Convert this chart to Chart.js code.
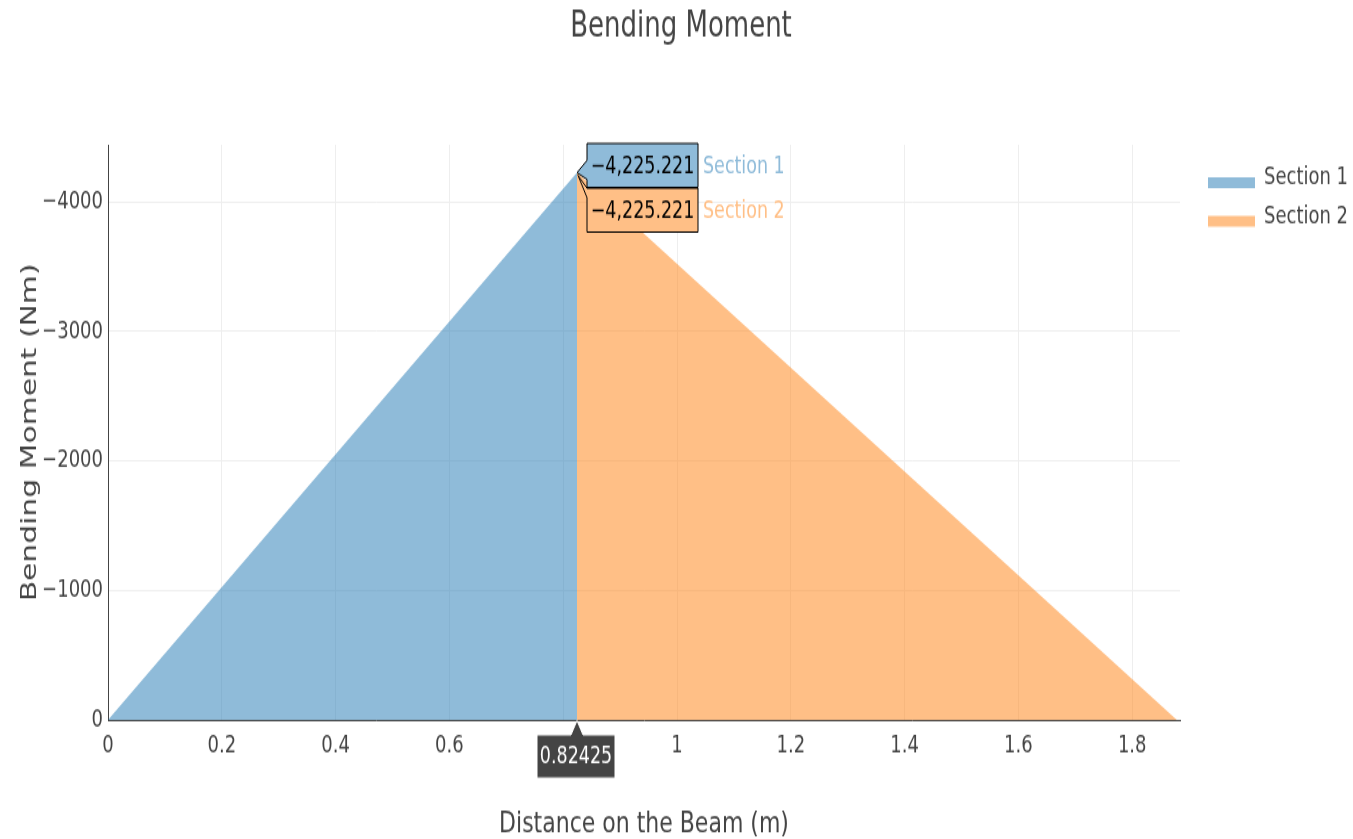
<!DOCTYPE html>
<html><head><meta charset="utf-8">
<script src="https://cdn.jsdelivr.net/npm/chart.js@4.4.1/dist/chart.umd.min.js"></script>
<style>
html,body{margin:0;padding:0;background:#fff;overflow:hidden;width:1353px;height:839px}
#wrap{width:1353px;height:620px;transform:scale(1,1.353226);transform-origin:0 0}
canvas{display:block}
</style>
</head><body><div id="wrap"><canvas id="c" width="1353" height="620" style="width:1353px;height:620px"></canvas></div>
<script>
// ---- data ----
const seriesNames = ['Section 1', 'Section 2'];
const section1X = [0, 0.82425];
const section1Y = [0, -4225.221];
const section2X = [0.82425, 1.8785];
const section2Y = [-4225.221, 0];
const xTickValues = [0, 0.2, 0.4, 0.6, 0.8, 1, 1.2, 1.4, 1.6, 1.8];
const yTickValues = [0, -1000, -2000, -3000, -4000];
const xRange = [0, 1.884];
const yRange = [-4440, 0];
const hoverX = 0.82425;
const hoverValues = [-4225.221, -4225.221];
const titleText = 'Bending Moment';
const xTitle = 'Distance on the Beam (m)';
const yTitle = 'Bending Moment (Nm)';

// ---- styles ----
const FONT = '"DejaVu Sans",Verdana,sans-serif';
const TXT = '#444';
const fills = ['rgba(31,119,180,0.5)', 'rgba(255,127,14,0.5)'];
const solid = ['rgb(143,187,217)', 'rgb(255,191,134)'];

function pts(xs, ys) { return xs.map((x, i) => ({ x: x, y: ys[i] })); }
function minusFmt(v) {
  const s = (Math.round(v * 1000) / 1000).toString();
  return s.replace('-', '\u2212');
}

const overlay = {
  id: 'overlay',
  afterDraw(chart) {
    const ctx = chart.ctx, a = chart.chartArea;
    const xs = chart.scales.x, ys = chart.scales.y;
    ctx.save();
    ctx.fillStyle = TXT;
    ctx.textAlign = 'center';
    ctx.textBaseline = 'middle';
    // title
    ctx.font = '26px ' + FONT;
    ctx.fillText(titleText, 681, 20.5);
    // x title
    ctx.font = '22px ' + FONT;
    ctx.fillText(xTitle, (a.left + a.right) / 2, 609);
    // y title
    ctx.save();
    ctx.translate(30, (a.top + a.bottom) / 2);
    ctx.rotate(-Math.PI / 2);
    ctx.fillText(yTitle, 0, 0);
    ctx.restore();
    // legend
    ctx.textAlign = 'left';
    ctx.font = '18px ' + FONT;
    const legText = [131, 160.5];
    const legSw = [131, 159.5];
    seriesNames.forEach((n, i) => {
      ctx.fillStyle = solid[i];
      ctx.fillRect(1208, legSw[i], 47, 8);
      ctx.fillStyle = TXT;
      ctx.fillText(n, 1264, legText[i]);
    });
    // hover labels
    const px = xs.getPixelForValue(hoverX);
    const py = ys.getPixelForValue(hoverValues[0]);
    const L = px + 10, R = px + 121;
    const boxes = [[106, 138.5], [139, 171.5]];
    ctx.lineWidth = 1;
    ctx.strokeStyle = '#000';
    let b = boxes[1];
    ctx.beginPath();
    ctx.moveTo(px + 1, py + 2);
    ctx.lineTo(L, b[0] + 7);
    ctx.lineTo(L, b[1]);
    ctx.lineTo(R, b[1]);
    ctx.lineTo(R, b[0]);
    ctx.lineTo(L, b[0]);
    ctx.closePath();
    ctx.fillStyle = solid[1];
    ctx.fill();
    ctx.stroke();
    b = boxes[0];
    ctx.beginPath();
    ctx.moveTo(px, py);
    ctx.lineTo(L, py - 9);
    ctx.lineTo(L, b[0]);
    ctx.lineTo(R, b[0]);
    ctx.lineTo(R, b[1]);
    ctx.lineTo(L, b[1]);
    ctx.lineTo(L, py + 5);
    ctx.closePath();
    ctx.fillStyle = solid[0];
    ctx.fill();
    ctx.stroke();
    ctx.font = '17.5px ' + FONT;
    boxes.forEach((bb, i) => {
      const cy = (bb[0] + bb[1]) / 2 + 1.5;
      ctx.fillStyle = '#000';
      ctx.textAlign = 'center';
      const s = hoverValues[i].toLocaleString('en-US', { maximumFractionDigits: 3 }).replace('-', '\u2212');
      ctx.fillText(s, (L + R) / 2, cy);
      ctx.fillStyle = solid[i];
      ctx.textAlign = 'left';
      ctx.fillText(seriesNames[i], R + 5, cy);
    });
    // x hover label
    const ax = a.bottom;
    ctx.fillStyle = '#444';
    ctx.beginPath();
    ctx.moveTo(px, ax + 0.5);
    ctx.lineTo(px + 6, ax + 11);
    ctx.lineTo(px + 38, ax + 11);
    ctx.lineTo(px + 38, ax + 43);
    ctx.lineTo(px - 40, ax + 43);
    ctx.lineTo(px - 40, ax + 11);
    ctx.lineTo(px - 6, ax + 11);
    ctx.closePath();
    ctx.fill();
    ctx.strokeStyle = '#fff';
    ctx.stroke();
    ctx.fillStyle = '#fff';
    ctx.textAlign = 'center';
    ctx.fillText(String(hoverX), px - 1, ax + 27.5);
    ctx.restore();
  }
};

new Chart(document.getElementById('c'), {
  type: 'line',
  data: {
    datasets: [
      { label: seriesNames[0], data: pts(section1X, section1Y), fill: 'origin', backgroundColor: fills[0], borderWidth: 0, borderColor: 'rgba(0,0,0,0)', pointRadius: 0, tension: 0 },
      { label: seriesNames[1], data: pts(section2X, section2Y), fill: 'origin', backgroundColor: fills[1], borderWidth: 0, borderColor: 'rgba(0,0,0,0)', pointRadius: 0, tension: 0 }
    ]
  },
  options: {
    responsive: false,
    animation: false,
    devicePixelRatio: 1,
    layout: { padding: { left: 0, top: 107, right: 173, bottom: 0 } },
    plugins: { legend: { display: false }, title: { display: false }, tooltip: { enabled: false } },
    scales: {
      x: {
        type: 'linear', min: xRange[0], max: xRange[1],
        afterFit(s) { s.height = 88; },
        afterBuildTicks(s) { s.ticks = xTickValues.map(v => ({ value: v })); },
        grid: { color: '#eee', lineWidth: 1, drawTicks: false },
        border: { display: true, color: '#444', width: 1 },
        ticks: { color: TXT, font: { family: FONT, size: 18 }, padding: 9, maxRotation: 0, autoSkip: false, callback: v => minusFmt(v) }
      },
      y: {
        type: 'linear', min: yRange[0], max: yRange[1], reverse: true,
        afterFit(s) { s.width = 108; },
        afterBuildTicks(s) { s.ticks = yTickValues.map(v => ({ value: v })); },
        grid: { color: '#eee', lineWidth: 1, drawTicks: false },
        border: { display: true, color: '#444', width: 1 },
        ticks: { color: TXT, font: { family: FONT, size: 18 }, padding: 5, callback: v => minusFmt(v) }
      }
    }
  },
  plugins: [overlay]
});
</script></body></html>
